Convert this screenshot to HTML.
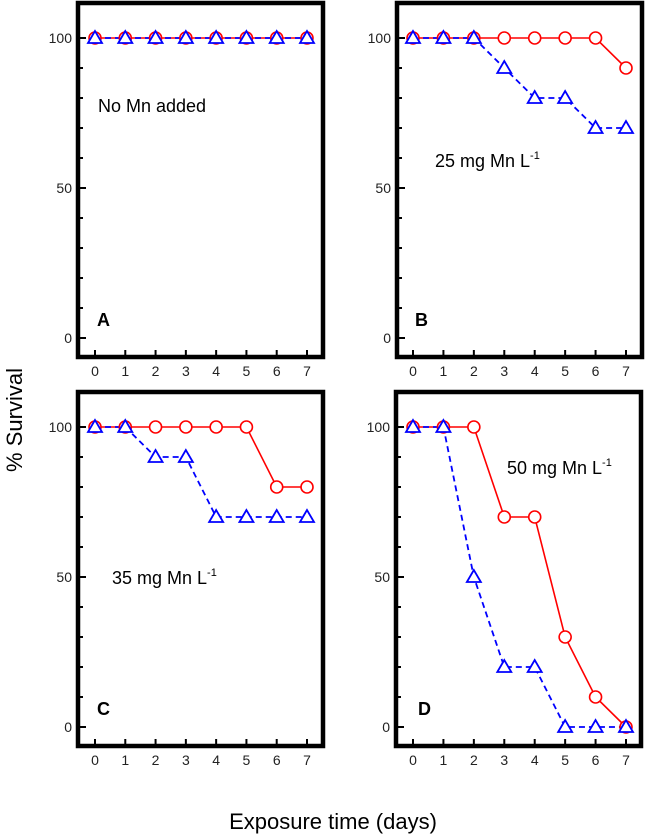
<!DOCTYPE html>
<html><head><meta charset="utf-8"><style>
html,body{margin:0;padding:0;background:#fff;}
svg{display:block;font-family:"Liberation Sans",Arial,sans-serif;}
</style></head><body>
<svg id="c" width="646" height="838" viewBox="0 0 646 838">
<text x="22" y="420" font-size="22" text-anchor="middle" transform="rotate(-90 22 420)">% Survival</text>
<text x="333" y="829" font-size="22" text-anchor="middle">Exposure time (days)</text>
</svg>
<script>
const days = [0,1,2,3,4,5,6,7];
const yTicks = [0,50,100];
const redA = [100,100,100,100,100,100,100,100];
const blueA = [100,100,100,100,100,100,100,100];
const redB = [100,100,100,100,100,100,100,90];
const blueB = [100,100,100,90,80,80,70,70];
const redC = [100,100,100,100,100,100,80,80];
const blueC = [100,100,90,90,70,70,70,70];
const redD = [100,100,100,70,70,30,10,0];
const blueD = [100,100,50,20,20,0,0,0];
const letters = ['A','B','C','D'];
const notes = ['No Mn added','25 mg Mn L','35 mg Mn L','50 mg Mn L'];

const svg = document.getElementById('c');
const NS = 'http://www.w3.org/2000/svg';
function mk(t, a, p){ const e=document.createElementNS(NS,t); for(const k in a) e.setAttribute(k,a[k]); (p||svg).appendChild(e); return e; }

const panels = [
 {fx:78, fy:3, x0:95, x7:307, red:redA, blue:blueA, note:[98,112], sup:false, lt:[97,326]},
 {fx:397, fy:3, x0:413, x7:626, red:redB, blue:blueB, note:[435,167], sup:true, lt:[415,326]},
 {fx:78, fy:392, x0:95, x7:307, red:redC, blue:blueC, note:[112,584], sup:true, lt:[97,715]},
 {fx:396, fy:392, x0:413, x7:626, red:redD, blue:blueD, note:[507,474], sup:true, lt:[418,715]}
];

panels.forEach((P,i)=>{
  const g = mk('g',{});
  
  
  const W = P.x7 - P.x0;
  const xs = d => P.x0 + d*W/7;
  const ys = v => P.fy + 35 + (100 - v)*3;
  const right = P.fx + 245, bottom = P.fy + 354;
  const fr = mk('rect',{x:P.fx,y:P.fy,width:right-P.fx,height:bottom-P.fy,fill:'none',stroke:'#000','stroke-width':4.5},g);
  
  
  for(let v=0; v<=100; v+=10){
    const major = v%50===0;
    mk('line',{x1:P.fx,x2:P.fx+(major?8:5),y1:ys(v),y2:ys(v),stroke:'#000','stroke-width':2},g);
  }
  yTicks.forEach(v=>{
    const t = mk('text',{x:P.fx-6,y:ys(v)+5,'font-size':14,'text-anchor':'end',fill:'#222'},g);
    t.textContent = v;
    
    
  });
  days.forEach(d=>{
    mk('line',{x1:xs(d),x2:xs(d),y1:bottom,y2:bottom-7,stroke:'#000','stroke-width':2},g);
    const t = mk('text',{x:xs(d),y:bottom+19,'font-size':14,'text-anchor':'middle',fill:'#222'},g);
    t.textContent = d;
    
    
  });
  const rl = mk('polyline',{points:days.map((d,k)=>xs(d)+','+ys(P.red[k])).join(' '),fill:'none',stroke:'#f00','stroke-width':1.6},g);
  
  
  const bl = mk('polyline',{points:days.map((d,k)=>xs(d)+','+ys(P.blue[k])).join(' '),fill:'none',stroke:'#00f','stroke-width':1.8,'stroke-dasharray':'6,4'},g);
  
  
  days.forEach((d,k)=>{
    const c = mk('circle',{cx:xs(d),cy:ys(P.red[k]),r:6,fill:'#fff',stroke:'#f00','stroke-width':1.6},g);
    
    
  });
  days.forEach((d,k)=>{
    const x=xs(d), y=ys(P.blue[k]);
    const t = mk('polygon',{points:`${x},${y-7} ${x-7},${y+5} ${x+7},${y+5}`,fill:'#fff',stroke:'#00f','stroke-width':1.8},g);
    
    
  });
  const n = mk('text',{x:P.note[0],y:P.note[1],'font-size':18},g);
  n.textContent = notes[i];
  
  
  if(P.sup){ const s=mk('tspan',{'font-size':11,dy:-8},n); s.textContent='-1'; }
  const L = mk('text',{x:P.lt[0],y:P.lt[1],'font-size':18,'font-weight':'bold'},g);
  L.textContent = letters[i];
  
  
});
</script>
</body></html>
